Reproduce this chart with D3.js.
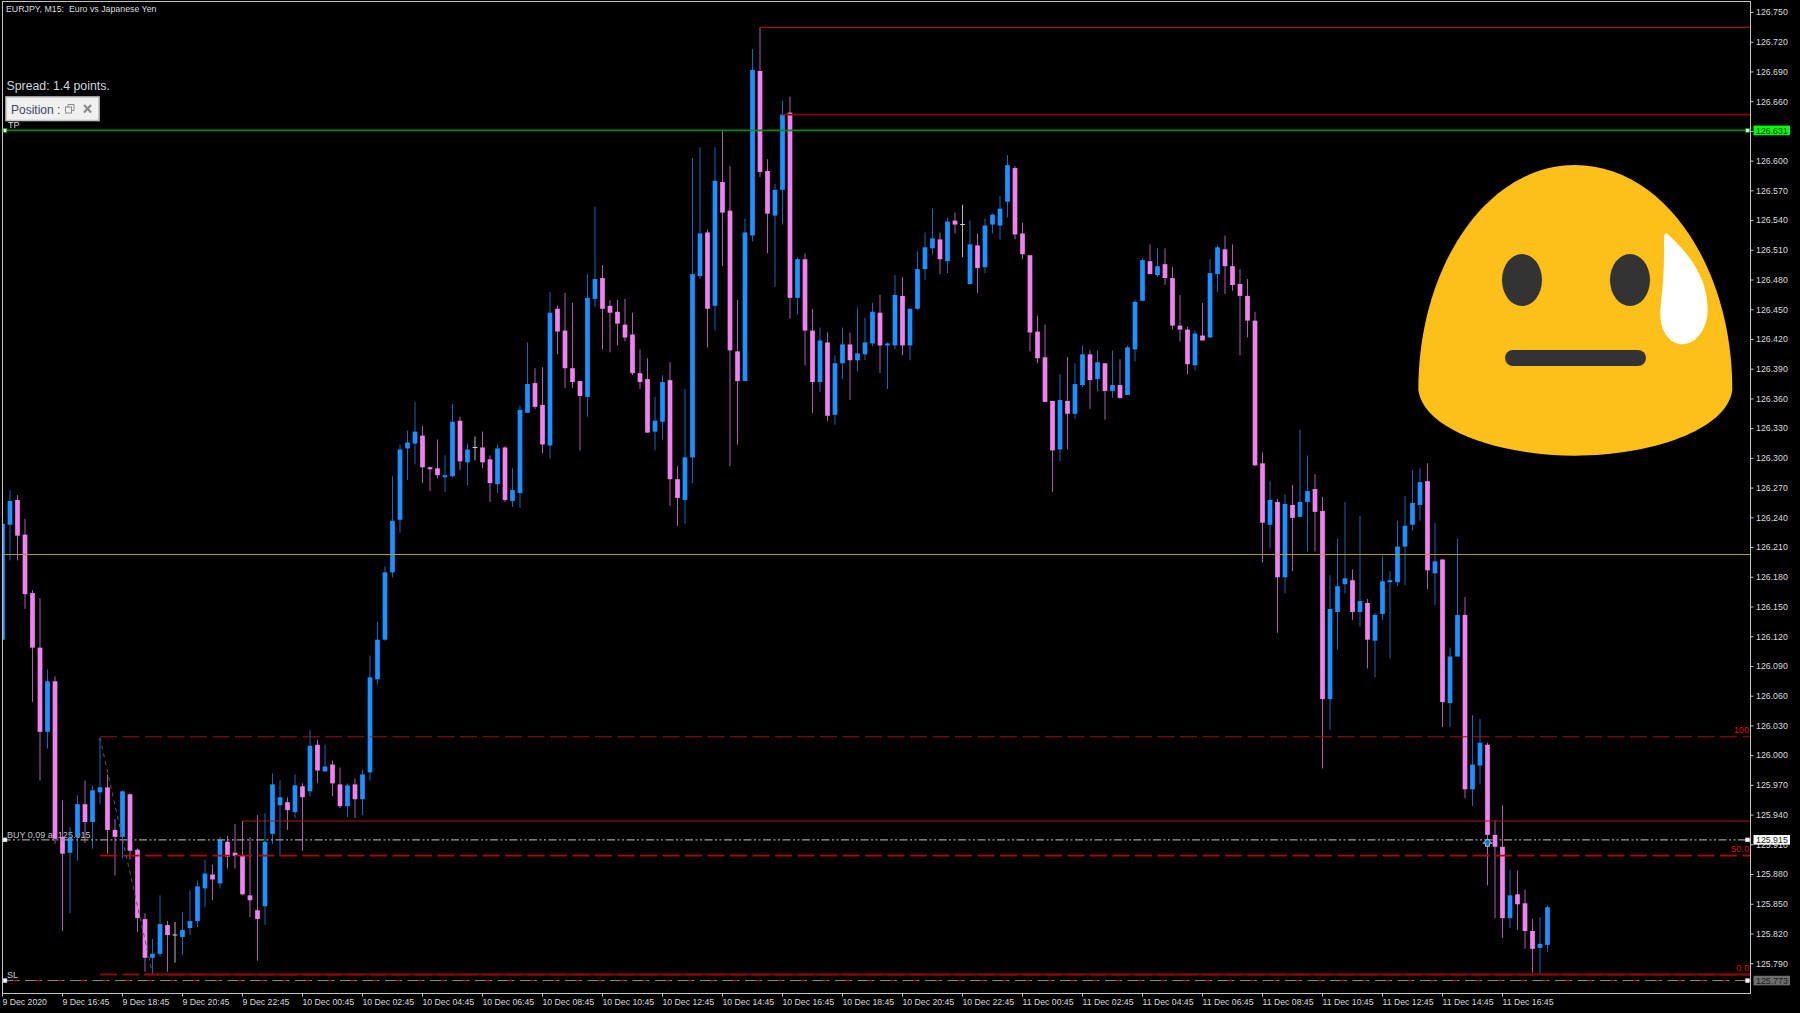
<!DOCTYPE html>
<html><head><meta charset="utf-8">
<script src="https://cdn.jsdelivr.net/npm/d3@7/dist/d3.min.js"></script>
<style>html,body{margin:0;padding:0;background:#000;overflow:hidden}svg{display:block}text{font-family:"Liberation Sans",sans-serif}</style>
</head><body><div id="chart"></div>
<script>
// Prices in points (1/1000 yen) above 125.000
const priceBase = 125;
const openPts = [1117,1233,1258,1223,1164,1109,1024,1075,918,902,
918,951,933,963,968,925,918,961,905,835,
796,800,829,819,817,826,833,866,880,871,
913,902,899,859,844,848,921,950,953,943,
969,964,1011,984,991,971,949,971,956,983,
1077,1117,1185,1238,1310,1315,1323,1291,1290,1281,
1282,1338,1296,1311,1311,1299,1274,1311,1257,1265,
1346,1376,1354,1313,1451,1429,1391,1378,1362,1461,
1482,1454,1448,1435,1425,1386,1380,1327,1337,1379,
1279,1258,1301,1484,1528,1454,1579,1550,1408,1378,
1525,1691,1590,1545,1571,1649,1462,1501,1429,1377,
1417,1344,1396,1415,1399,1405,1416,1447,1414,1414,
1464,1414,1451,1491,1512,1521,1499,1540,1536,1476,
1515,1493,1536,1535,1559,1593,1527,1505,1428,1402,
1358,1309,1358,1345,1374,1405,1380,1396,1368,1374,
1364,1410,1459,1499,1485,1496,1482,1434,1430,1394,
1424,1422,1486,1511,1494,1476,1464,1439,1295,1233,
1256,1180,1253,1241,1256,1269,1247,1057,1145,1173,
1177,1145,1154,1116,1143,1175,1175,1211,1233,1253,
1277,1184,1198,1053,1100,1142,966,990,1011,920,
908,836,860,851,823,806,809];
const highPts = [1234,1268,1263,1239,1167,1159,1087,1080,955,928,
960,975,970,1018,981,936,965,962,906,841,
815,859,833,832,842,864,874,895,890,918,
919,931,934,918,940,942,982,975,958,981,
972,1026,1016,1011,995,988,972,977,986,1101,
1135,1191,1282,1314,1328,1357,1333,1292,1319,1303,
1355,1342,1315,1322,1327,1303,1314,1312,1290,1353,
1417,1391,1392,1468,1454,1467,1457,1378,1486,1554,
1495,1460,1460,1461,1447,1410,1401,1362,1384,1397,
1292,1370,1603,1614,1531,1614,1631,1595,1460,1542,
1713,1735,1602,1577,1661,1665,1503,1507,1451,1432,
1427,1404,1432,1427,1452,1442,1457,1465,1417,1485,
1483,1451,1509,1528,1552,1528,1543,1548,1556,1540,
1527,1542,1547,1565,1606,1595,1538,1505,1444,1435,
1358,1385,1402,1396,1414,1409,1409,1396,1409,1400,
1414,1460,1502,1516,1512,1512,1493,1465,1433,1429,
1457,1501,1515,1525,1516,1491,1481,1448,1306,1277,
1259,1264,1273,1329,1303,1284,1261,1182,1219,1256,
1188,1242,1158,1144,1202,1186,1237,1262,1288,1290,
1295,1235,1198,1109,1219,1160,1041,1037,1013,935,
950,885,884,865,835,837,849];
const lowPts = [1117,1197,1197,1148,1054,975,1007,911,823,841,
894,912,906,951,901,879,896,895,822,782,
780,797,782,791,799,819,827,847,854,866,
886,886,859,837,793,829,911,898,925,937,
904,959,972,984,959,947,938,937,940,975,
1072,1116,1180,1225,1278,1294,1275,1267,1280,1266,
1281,1288,1273,1298,1290,1256,1265,1256,1251,1250,
1346,1350,1305,1300,1405,1371,1371,1308,1342,1453,
1410,1407,1414,1418,1384,1370,1326,1308,1319,1252,
1232,1234,1275,1481,1412,1429,1494,1292,1314,1378,
1519,1584,1507,1473,1536,1441,1445,1394,1346,1367,
1338,1334,1380,1359,1388,1399,1413,1386,1370,1410,
1404,1399,1450,1480,1506,1486,1487,1527,1503,1476,
1467,1487,1527,1521,1543,1521,1501,1408,1396,1357,
1266,1297,1309,1340,1372,1350,1368,1339,1361,1360,
1364,1398,1459,1486,1483,1475,1430,1418,1385,1389,
1419,1422,1468,1466,1469,1404,1422,1292,1195,1209,
1124,1164,1186,1241,1206,1206,987,1026,1107,1164,
1137,1130,1088,1079,1137,1098,1171,1172,1227,1237,
1168,1152,1029,1029,1100,957,949,971,869,836,
816,826,824,805,781,779,802];
const closePts = [1234,1257,1222,1163,1109,1024,1075,916,901,917,
951,933,965,968,925,918,964,904,836,796,
800,830,819,819,824,833,868,881,875,915,
898,899,860,854,835,913,971,958,945,970,
958,1010,985,989,972,949,970,956,981,1079,
1117,1185,1237,1309,1316,1327,1291,1289,1283,1283,
1337,1297,1309,1311,1296,1275,1310,1258,1268,1349,
1375,1352,1314,1447,1428,1391,1377,1363,1462,1481,
1451,1447,1436,1422,1386,1377,1326,1338,1377,1279,
1260,1301,1486,1527,1451,1580,1548,1409,1378,1528,
1692,1589,1547,1571,1647,1462,1501,1429,1377,1419,
1343,1396,1415,1399,1406,1417,1448,1414,1416,1465,
1414,1451,1491,1513,1522,1501,1539,1536,1536,1516,
1492,1535,1546,1552,1596,1526,1506,1427,1401,1357,
1308,1359,1345,1375,1405,1379,1397,1368,1374,1361,
1412,1458,1500,1486,1494,1482,1434,1430,1395,1426,
1419,1487,1513,1494,1475,1464,1439,1293,1235,1258,
1180,1254,1240,1256,1267,1246,1057,1148,1171,1179,
1145,1156,1117,1142,1176,1177,1211,1232,1255,1276,
1187,1196,1054,1100,1142,966,991,1013,920,908,
836,859,850,823,805,810,847];

const priceTicks = [125.790,125.820,125.850,125.880,125.910,125.940,125.970,126.000,126.030,126.060,126.090,
126.120,126.150,126.180,126.210,126.240,126.270,126.300,126.330,126.360,126.390,126.420,
126.450,126.480,126.510,126.540,126.570,126.600,126.630,126.660,126.690,126.720,126.750];
const timeTickBars = [0,8,16,24,32,40,48,56,64,72,80,88,96,104,112,120,128,136,144,152,160,168,176,184,192,200];
const timeTickLabels = ["9 Dec 2020","9 Dec 16:45","9 Dec 18:45","9 Dec 20:45","9 Dec 22:45",
"10 Dec 00:45","10 Dec 02:45","10 Dec 04:45","10 Dec 06:45","10 Dec 08:45","10 Dec 10:45","10 Dec 12:45","10 Dec 14:45","10 Dec 16:45","10 Dec 18:45","10 Dec 20:45","10 Dec 22:45",
"11 Dec 00:45","11 Dec 02:45","11 Dec 04:45","11 Dec 06:45","11 Dec 08:45","11 Dec 10:45","11 Dec 12:45","11 Dec 14:45","11 Dec 16:45"];

const tpPrice = 126.631, slPrice = 125.773, buyPrice = 125.915, goldPrice = 126.203;
const fibPrices = [126.019, 125.899, 125.779], fibLabels = ["100","50.0","0.0"], fibStartBar = 13;
const resistance = [{price:126.735,bar:101},{price:126.647,bar:104},{price:125.934,bar:32}];
const zigzag = [{bar:13,price:126.018},{bar:20,price:125.780}];
const entryMark = {bar:198, price:125.912};

const W=1800,H=1013, L=2.5, R=1750.5, T=1.5, B=993.5;
const BLUE="#1e90ff", PINK="#ee82ee", DOJI="#d8d8d8", TEXT="#dcdcdc", FRAME="#c4c4c4";
const x=d3.scaleLinear().domain([0,206]).range([2.5,1547.5]);
const y=d3.scaleLinear().domain([126.75,125.79]).range([12.5,963.7]);
const P=v=>y(priceBase+v/1000);
const bars=openPts.map((o,i)=>({i,o,h:highPts[i],l:lowPts[i],c:closePts[i]}));
const col=d=>d.c>d.o?BLUE:d.c<d.o?PINK:DOJI;

const svg=d3.select("#chart").append("svg").attr("width",W).attr("height",H).style("background","#000");
svg.append("defs").append("clipPath").attr("id","plot").append("rect").attr("x",L).attr("y",T).attr("width",R-L).attr("height",B-T);
svg.select("defs").append("clipPath").attr("id","posClip").append("rect").attr("x",8).attr("y",98).attr("width",53.5).attr("height",22);

// text that sits behind candles
const txt=(g,s,xx,yy,size,fill,anchor)=>g.append("text").attr("x",xx).attr("y",yy).attr("font-size",size).attr("fill",fill).attr("text-anchor",anchor||"start").text(s);
const back=svg.append("g");
txt(back,"BUY 0.09 at 125.915",7,838,9,"#c4c4c4");
txt(back,"SL",7,978,9,"#d0d0d0");
txt(back,"TP",8,128,9,"#dcdcdc");

// candles
const plot=svg.append("g").attr("clip-path","url(#plot)");
plot.selectAll("line.wick").data(bars).join("line").attr("class","wick")
 .attr("x1",d=>x(d.i)).attr("x2",d=>x(d.i)).attr("y1",d=>P(d.h)).attr("y2",d=>P(d.l))
 .attr("stroke",col).attr("stroke-width",1).attr("stroke-opacity",d=>d.c===d.o?0.85:0.72);
plot.selectAll("rect.body").data(bars).join("rect").attr("class","body")
 .attr("x",d=>x(d.i)-2.35).attr("width",4.7)
 .attr("y",d=>d.c===d.o?P(d.c)-0.5:Math.min(P(d.o),P(d.c)))
 .attr("height",d=>Math.max(1,Math.abs(P(d.o)-P(d.c))))
 .attr("fill",col);

// level lines
const lines=svg.append("g").attr("clip-path","url(#plot)").attr("fill","none");
const hline=(x1,p,c,w,dash)=>lines.append("line").attr("x1",x1).attr("x2",R).attr("y1",y(p)).attr("y2",y(p)).attr("stroke",c).attr("stroke-width",w).attr("stroke-dasharray",dash||null);
hline(L,goldPrice,"#b39a12",1.2);
hline(L,tpPrice,"#078a07",1.7);
hline(x(resistance[0].bar),resistance[0].price,"#a81414",1.1);
hline(x(resistance[1].bar),resistance[1].price,"#860808",1.8);
hline(x(resistance[2].bar),resistance[2].price,"#b01212",1.1);
hline(x(fibStartBar),fibPrices[0],"#a40c0c",1.1,"17 5.5");
hline(x(fibStartBar),fibPrices[1],"#b00808",1.7,"17 5.5");
hline(x(fibStartBar),fibPrices[2],"#8a0606",2,"17 5.5");
hline(x(19)-1,fibPrices[2],"#8a0606",2);
hline(L,buyPrice,"#a0a0a0",1.2,"8 2.5 2 2.5 2 2.5");
hline(L,slPrice,"#8c8c8c",1,"17 5.5");
hline(13,slPrice,"#d40000",1,"4 18.5");
lines.append("path").attr("d",d3.line().x(d=>x(d.bar)).y(d=>y(d.price))(zigzag)).attr("stroke","#5a5a5a").attr("stroke-width",1).attr("stroke-dasharray","4 4");
// entry arrow
const ax=x(entryMark.bar), ay=y(entryMark.price);
svg.append("path").attr("transform",`translate(${ax},${ay})`).attr("d","M0,-4 L4.5,0.5 L2,0.5 L2,3.5 L-2,3.5 L-2,0.5 L-4.5,0.5 Z")
 .attr("fill","#0c78c8").attr("stroke","#e8f4ff").attr("stroke-width",0.7);

// frame
svg.append("rect").attr("x",L).attr("y",T).attr("width",R-L).attr("height",B-T).attr("fill","none").attr("stroke",FRAME).attr("stroke-width",1);

// axes
const yAxis=d3.axisRight(y).offset(0).tickValues(priceTicks).tickFormat(d3.format(".3f")).tickSize(3).tickPadding(2.5);
const ya=svg.append("g").attr("transform",`translate(${R},0)`).call(yAxis);
ya.select(".domain").remove();
ya.selectAll("line").attr("stroke",FRAME);
ya.selectAll("text").attr("font-size",8.8).attr("fill",TEXT).attr("font-family",'"Liberation Sans",sans-serif');
const xAxis=d3.axisBottom(x).offset(0).tickValues(timeTickBars).tickFormat((d,i)=>timeTickLabels[i]).tickSize(3).tickPadding(2.5);
const xa=svg.append("g").attr("transform",`translate(0,${B})`).call(xAxis);
xa.select(".domain").remove();
xa.selectAll("line").attr("stroke",FRAME);
xa.selectAll("text").attr("font-size",8.7).attr("fill",TEXT).attr("text-anchor","start").attr("font-family",'"Liberation Sans",sans-serif');

// price flags
const flag=(p,bg,fg)=>{const c=y(p);
 svg.append("rect").attr("x",1753.5).attr("y",c-4.8).attr("width",36.5).attr("height",9.6).attr("fill",bg);
 txt(svg,d3.format(".3f")(p),1756,c+3.1,8.8,fg);};
flag(buyPrice,"#ffffff","#222");
flag(tpPrice,"#00ff00","#003a10");
flag(slPrice,"#6e6e6e","#1c1c1c");
// line-end handles
[[tpPrice,"#0a0"],[buyPrice,"#ddd"],[slPrice,"#ccc"]].forEach(([p,s])=>{[5,1747.5].forEach(hx=>{
 svg.append("rect").attr("x",hx-1.8).attr("y",y(p)-1.8).attr("width",3.6).attr("height",3.6).attr("fill","#fff").attr("stroke",s).attr("stroke-width",0.8);
});});
// fib labels
fibPrices.forEach((p,i)=>txt(svg,fibLabels[i],1749,y(p)-3.5,9.2,"#d80c0c","end"));

// header
txt(svg,"EURJPY, M15:  Euro vs Japanese Yen",6,12,8.8,TEXT).attr("xml:space","preserve").style("white-space","pre");
txt(svg,"Spread: 1.4 points.",6.5,90,12.3,"#cfd6dc");
const box=svg.append("g");
box.append("rect").attr("x",6).attr("y",97).attr("width",93).attr("height",23.5).attr("fill","#f0f0f0").attr("stroke","#c4c4c4").attr("stroke-width",1.6);
txt(box,"Position : 1",11,114,12,"#3c4660").attr("clip-path","url(#posClip)");
box.append("rect").attr("x",65.5).attr("y",107).attr("width",6).attr("height",6).attr("fill","none").attr("stroke","#8a8a8a");
box.append("path").attr("d","M68,107 V104.5 H74 V110.5 H71.5").attr("fill","none").attr("stroke","#8a8a8a");
box.append("path").attr("d","M84,105 L91,112.5 M91,105 L84,112.5").attr("stroke","#8a8a8a").attr("stroke-width",2.2);

// emoji
const em=svg.append("g").attr("transform","translate(1400,150) scale(0.33333)");
em.append("path").attr("fill","#fdc01b").attr("d","M525,45 C260,45 55,350 55,720 C70,840 300,917 525,917 C750,917 982,840 997,720 C997,350 792,45 525,45 Z");
em.append("ellipse").attr("cx",366).attr("cy",390).attr("rx",60).attr("ry",78).attr("fill","#333");
em.append("ellipse").attr("cx",690).attr("cy",390).attr("rx",60).attr("ry",78).attr("fill","#333");
em.append("rect").attr("x",315).attr("y",600).attr("width",423).attr("height",48).attr("rx",24).attr("fill","#333");
em.append("path").attr("fill","#fff").attr("d","M800,250 C850,295 923,370 923,478 C923,540 885,583 848,583 C810,583 781,545 781,495 C781,450 794,410 792,265 C792,255 795,250 800,250 Z");
</script></body></html>
